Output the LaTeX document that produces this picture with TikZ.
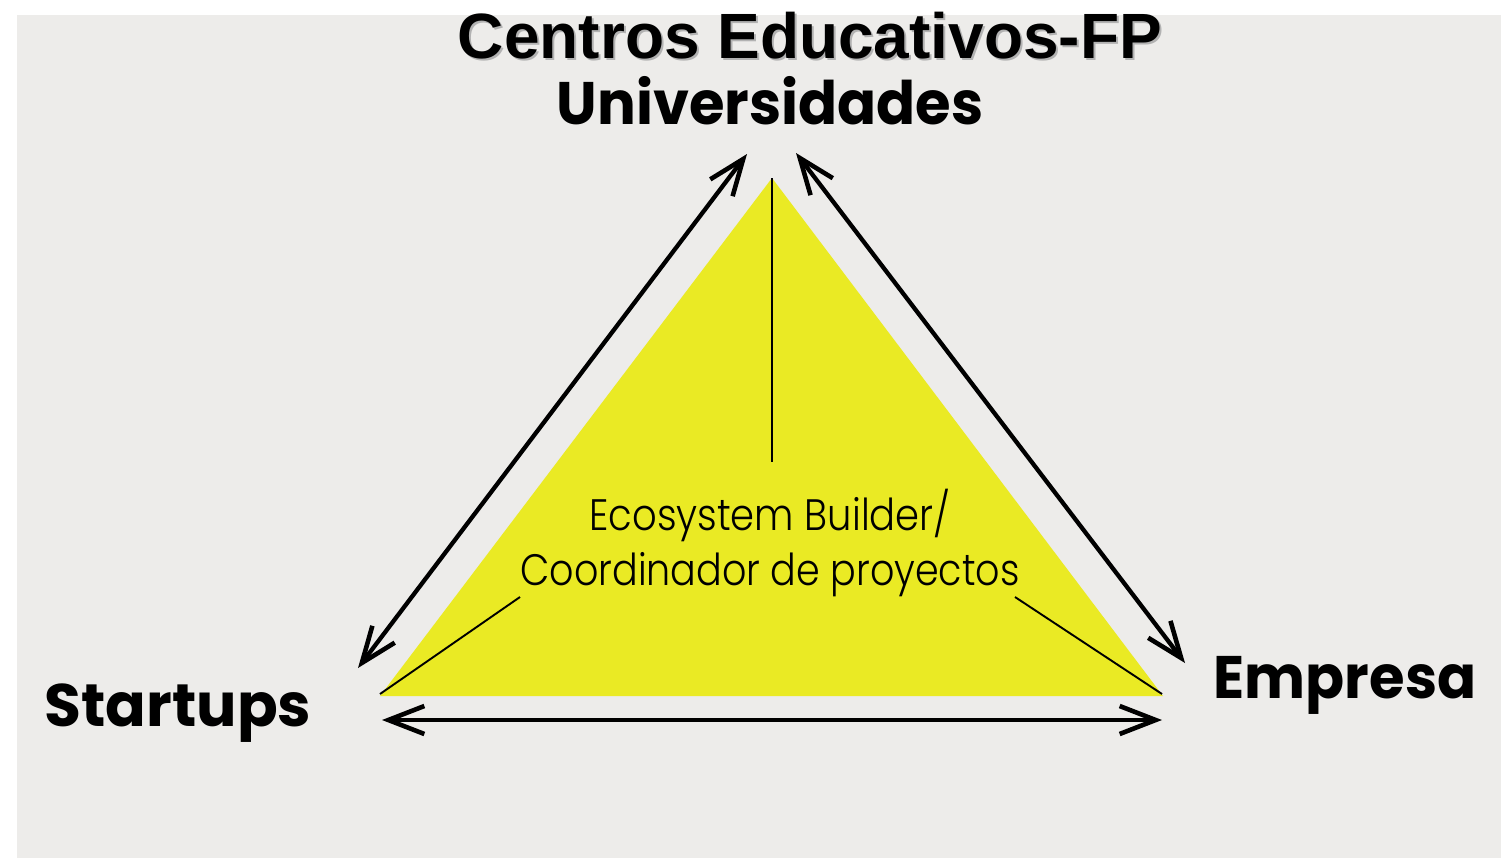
\documentclass[tikz,border=0pt]{standalone}
\usepackage{fontspec}
\setmainfont{Liberation Sans}
\newfontfamily\titlef{Liberation Sans}
\newfontfamily\geof{Poppins}
\newfontfamily\geolight{Poppins Light}
\usetikzlibrary{arrows.meta}
\definecolor{bg}{HTML}{EDECEA}
\definecolor{tri}{HTML}{EAEA24}
\begin{document}
\begin{tikzpicture}[x=1pt,y=-1pt,
  dbl/.style={line width=4.3pt,{Straight Barb[length=36pt,width=28pt,line width=4.6pt]}-{Straight Barb[length=36pt,width=28pt,line width=4.6pt]}},
  thin/.style={line width=1.9pt},
  lbl/.style={inner sep=0pt,anchor=base}]
\useasboundingbox (0,0) rectangle (1501,860);
\fill[white] (0,0) rectangle (1501,860);
\fill[bg] (17,15) rectangle (1501,858);
% triangle
\coordinate (A) at (772,178);
\coordinate (L) at (380,696);
\coordinate (R) at (1163,696);
\fill[tri] (A) -- (L) -- (R) -- cycle;
\coordinate (Vend) at (772,462);
\coordinate (Lend) at (520,597);
\coordinate (Rend) at (1015,597);
\coordinate (L2) at (380,694);
\coordinate (R2) at (1162,694);
\draw[thin] (A) -- (Vend);
\draw[thin] (L2) -- (Lend);
\draw[thin] (R2) -- (Rend);
% arrows
\coordinate (a1) at (747,154);
\coordinate (a2) at (358,668);
\coordinate (b1) at (796,153);
\coordinate (b2) at (1185,663);
\coordinate (c1) at (382,720);
\coordinate (c2) at (1162,720);
\draw[dbl] (a1) -- (a2);
\draw[dbl] (b1) -- (b2);
\draw[dbl] (c1) -- (c2);
% labels
\node[lbl,text=black!30] (titleshadow) at (812,60) {\titlef\fontsize{64}{64}\selectfont\bfseries Centros Educativos-FP};
\node[lbl] (title) at (810,58) {\titlef\fontsize{64}{64}\selectfont\bfseries Centros Educativos-FP};
\node[lbl] (univ) at (770,124) {\geof\fontsize{60}{60}\selectfont\bfseries\scalebox{0.96}[1]{Universidades}};
\node[lbl] (startups) at (178,726) {\geof\fontsize{60}{60}\selectfont\bfseries Startups};
\node[lbl] (empresa) at (1345,698) {\geof\fontsize{60}{60}\selectfont\bfseries\scalebox{0.96}[1]{Empresa}};
\node[lbl] (eco1) at (770,530) {\geolight\fontsize{44}{44}\selectfont\scalebox{0.875}[1]{Ecosystem Builder/}};
\node[lbl] (eco2) at (770,585) {\geolight\fontsize{44}{44}\selectfont\scalebox{0.865}[1]{Coordinador de proyectos}};
\end{tikzpicture}
\end{document}
